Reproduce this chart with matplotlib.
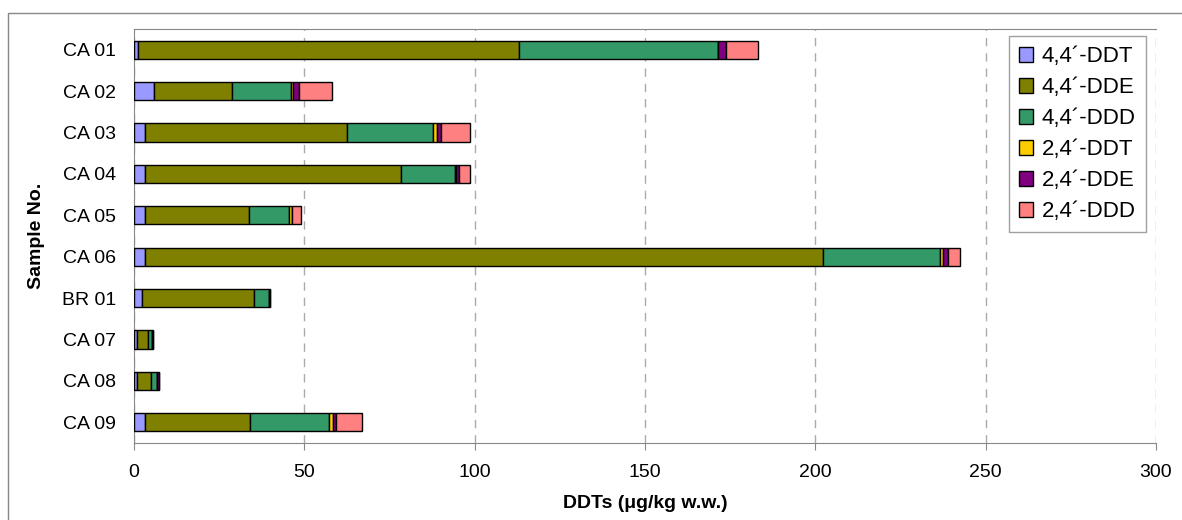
import numpy as np
import matplotlib.pyplot as plt
from matplotlib.patches import Rectangle

plt.rcParams['font.family'] = ['Liberation Sans', 'DejaVu Sans']

# samples, top to bottom
samples = ["CA 01", "CA 02", "CA 03", "CA 04", "CA 05", "CA 06", "BR 01", "CA 07", "CA 08", "CA 09"]

# DDT congeners (ug/kg w.w.)
ddt_44 = [1.2, 5.8, 3.2, 3.2, 3.2, 3.2, 2.4, 0.9, 0.9, 3.2]
dde_44 = [111.8, 23.0, 59.3, 75.3, 30.5, 199.1, 32.9, 3.1, 4.1, 30.9]
ddd_44 = [58.3, 17.2, 25.2, 15.6, 11.7, 34.2, 4.3, 1.2, 1.7, 23.1]
ddt_24 = [0.0, 0.8, 1.2, 0.3, 0.9, 1.0, 0.0, 0.0, 0.0, 1.2]
dde_24 = [2.5, 1.6, 1.2, 1.0, 0.0, 1.3, 0.4, 0.3, 0.5, 0.9]
ddd_24 = [9.4, 9.6, 8.5, 3.2, 2.8, 3.6, 0.0, 0.0, 0.0, 7.6]

series = [
    ("4,4\u00b4-DDT", ddt_44, "#9999FF"),
    ("4,4\u00b4-DDE", dde_44, "#808000"),
    ("4,4\u00b4-DDD", ddd_44, "#339966"),
    ("2,4\u00b4-DDT", ddt_24, "#FFCC00"),
    ("2,4\u00b4-DDE", dde_24, "#800080"),
    ("2,4\u00b4-DDD", ddd_24, "#FF8080"),
]

fig = plt.figure(figsize=(11.82, 5.2), dpi=100)
ax = fig.add_axes([134 / 1182, 1 - 443 / 520, (1156 - 134) / 1182, (443 - 29) / 520])

# outer chart frame
fig.patches.append(Rectangle((8 / 1182, -0.1), 1.2, 1.1 - 13 / 520, transform=fig.transFigure,
                             fill=False, edgecolor="#888888", linewidth=1.0))

y = np.arange(len(samples))
left = np.zeros(len(samples))
for name, vals, col in series:
    ax.barh(y, vals, left=left, height=0.44, color=col, edgecolor="black",
            linewidth=1.0, label=name, zorder=3)
    left += np.array(vals)

ax.set_xlim(0, 300)
ax.set_ylim(len(samples) - 0.5, -0.5)
ax.set_xticks(np.arange(0, 301, 50))
ax.set_yticks(y)
ax.set_yticklabels(samples)
ax.tick_params(axis="y", length=0, pad=13, labelsize=14)
ax.tick_params(axis="x", length=5, direction="out", pad=10, labelsize=14, color="#888888")

ax.xaxis.grid(True, linestyle=(0, (6, 5)), color="#aaaaaa", linewidth=1.0, zorder=0)
for side in ["left", "bottom", "top"]:
    ax.spines[side].set_color("#888888")
ax.spines["right"].set_visible(False)

ax.set_xlabel("DDTs (\u03bcg/kg w.w.)", fontsize=14, fontweight="bold", labelpad=10)
ax.set_ylabel("Sample No.", fontsize=14, fontweight="bold", labelpad=12)

leg = fig.legend(loc="upper right", bbox_to_anchor=(1146 / 1182, 1 - 36 / 520),
                 fontsize=16, frameon=True, fancybox=False, edgecolor="#888888",
                 handlelength=0.65, handleheight=0.65, handletextpad=0.4,
                 labelspacing=0.45, borderpad=0.45, borderaxespad=0)
leg.get_frame().set_linewidth(1.0)

fig.savefig("out.png", dpi=100)
